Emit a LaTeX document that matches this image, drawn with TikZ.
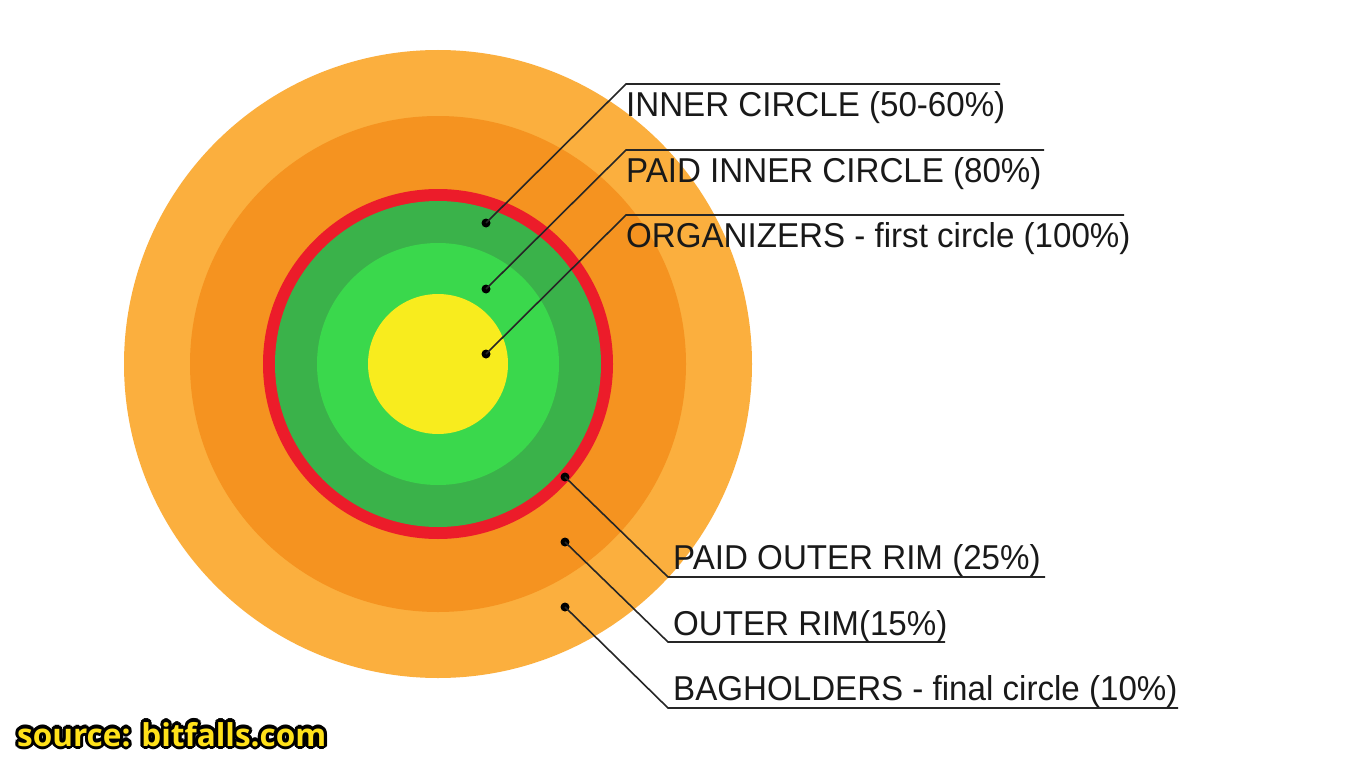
\documentclass[tikz,border=0pt]{standalone}
\usepackage{fontspec}
\setmainfont{Liberation Sans}[FakeStretch=0.96]
\newfontfamily\srcfont{Open Sans}[BoldFont={* Bold}]
\definecolor{outerO}{HTML}{FBAF3E}
\definecolor{midO}{HTML}{F59320}
\definecolor{ringR}{HTML}{EC1C2A}
\definecolor{darkG}{HTML}{3AB24A}
\definecolor{lightG}{HTML}{3AD84C}
\definecolor{coreY}{HTML}{F8EC1E}
\definecolor{srcY}{HTML}{FFE11A}
\begin{document}
\begin{tikzpicture}[x=1pt,y=-1pt,
  dot/.style={circle,fill=black,inner sep=0pt,minimum size=9pt},
  lead/.style={draw=black!85,line width=1.6pt},
  lbl/.style={anchor=base west,inner sep=0pt,font=\fontsize{34.5}{40}\selectfont,text=black!90},
  src/.style={anchor=base west,inner sep=0pt,font=\srcfont\bfseries\fontsize{31.5}{34}\selectfont}]
\useasboundingbox (0,0) rectangle (1366,768);
\fill[white] (0,0) rectangle (1366,768);
% rings
\coordinate (ctr) at (438,364);
\fill[outerO] (ctr) circle[radius=314];
\fill[midO] (ctr) circle[radius=248];
\fill[ringR] (ctr) circle[radius=175];
\fill[darkG] (ctr) circle[radius=163];
\fill[lightG] (ctr) circle[radius=121];
\fill[coreY] (ctr) circle[radius=70];
% dots
\node[dot] (d1) at (486,223) {};
\node[dot] (d2) at (486,289) {};
\node[dot] (d3) at (486,354) {};
\node[dot] (d4) at (565,477) {};
\node[dot] (d5) at (565,542) {};
\node[dot] (d6) at (565,607) {};
% corners and line ends
\coordinate (c1) at (626,84);  \coordinate (e1) at (1000,84);
\coordinate (c2) at (626,150); \coordinate (e2) at (1044,150);
\coordinate (c3) at (626,215); \coordinate (e3) at (1124,215);
\coordinate (c4) at (668,577); \coordinate (e4) at (1045,577);
\coordinate (c5) at (668,642); \coordinate (e5) at (945,642);
\coordinate (c6) at (668,708); \coordinate (e6) at (1178,708);
\draw[lead] (d1.center) -- (c1) -- (e1);
\draw[lead] (d2.center) -- (c2) -- (e2);
\draw[lead] (d3.center) -- (c3) -- (e3);
\draw[lead] (d4.center) -- (c4) -- (e4);
\draw[lead] (d5.center) -- (c5) -- (e5);
\draw[lead] (d6.center) -- (c6) -- (e6);
% labels
\node[lbl] (t1) at (626,116) {INNER CIRCLE (50-60\%)};
\node[lbl] (t2) at (626,182) {PAID INNER CIRCLE (80\%)};
\node[lbl] (t3) at (626,247) {ORGANIZERS - first circle (100\%)};
\node[lbl] (t4) at (673,569) {PAID OUTER RIM (25\%)};
\node[lbl] (t5) at (673,635) {OUTER RIM(15\%)};
\node[lbl] (t6) at (673,700) {BAGHOLDERS - final circle (10\%)};
% source watermark
\foreach \a [count=\i] in {0,30,...,330}
  \node[src,text=black] (so\i) at ({17+3.2*cos(\a)},{746+3.2*sin(\a)}) {source: bitfalls.com};
\node[src,text=srcY] (source) at (17,746) {source: bitfalls.com};
\end{tikzpicture}
\end{document}
